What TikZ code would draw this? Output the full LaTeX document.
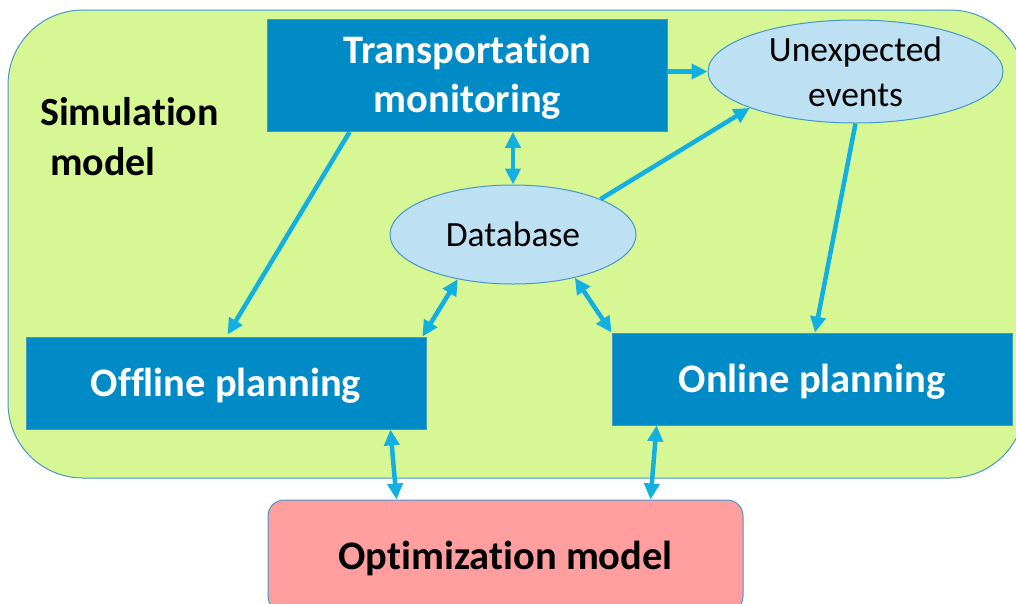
\documentclass[tikz,border=0pt]{standalone}
\usepackage{fontspec}
\setmainfont[Ligatures={NoCommon}]{Carlito}
\usetikzlibrary{arrows.meta,shapes.geometric,calc}
\definecolor{simgreen}{RGB}{215,247,148}
\definecolor{boxblue}{RGB}{0,139,198}
\definecolor{ellblue}{RGB}{189,225,243}
\definecolor{optpink}{RGB}{255,158,158}
\definecolor{arrcyan}{RGB}{18,175,225}
\definecolor{edgeblue}{RGB}{70,150,200}
\tikzset{
  bluebox/.style={rectangle, fill=boxblue, draw=edgeblue, line width=0.8pt, inner sep=0pt, text=white,
    font=\fontsize{40.5}{49}\selectfont\bfseries, align=center, text height=33pt},
  ellbox/.style={ellipse, fill=ellblue, draw=edgeblue, line width=1pt, inner sep=0pt,
    font=\fontsize{35.5}{45}\selectfont, align=center},
  conn/.style={draw=arrcyan, line width=4.5pt, -{Triangle[length=16pt,width=15pt]}},
  bconn/.style={draw=arrcyan, line width=4.5pt, {Triangle[length=16pt,width=15pt]}-{Triangle[length=16pt,width=15pt]}},
}
\begin{document}
\begin{tikzpicture}[x=1pt,y=-1pt]
\useasboundingbox (0,0) rectangle (1016,603);
\clip (0,0) rectangle (1016,603);
% simulation model container
\node[rectangle, rounded corners=75pt, fill=simgreen, draw=edgeblue, line width=1pt,
  minimum width=1017pt, minimum height=468pt, inner sep=0pt] (sim) at (516.5,244) {};
\node[anchor=base west, font=\fontsize{40}{50}\selectfont\bfseries, align=left, inner sep=0pt]
  (simlabel) at (40,175) {Simulation\\\hspace*{10pt}model};
% nodes
\node[bluebox, text height=84pt, text depth=10pt, minimum width=400pt, minimum height=112pt] (tm) at (467.5,75.5) {Transportation\\monitoring};
\node[ellbox, minimum width=295pt, minimum height=103pt] (ue) at (855.5,71.5) {Unexpected\\events};
\node[ellbox, minimum width=246pt, minimum height=99pt] (db) at (513,234.5) {Database};
\node[bluebox, minimum width=400pt, minimum height=92pt] (off) at (226,383) {Offline planning};
\node[bluebox, minimum width=400pt, minimum height=92pt] (on) at (812,379) {Online planning};
\node[rectangle, rounded corners=16pt, fill=optpink, draw=edgeblue, line width=1pt,
  minimum width=475pt, minimum height=112pt, inner sep=0pt, text height=33pt,
  font=\fontsize{40.5}{49}\selectfont\bfseries] (opt) at (505.5,556) {Optimization model};
% connectors
\draw[conn] (tm.east |- ue.west) -- (ue.west);
\draw[bconn] (db.north |- tm.south) -- (db.north);
\draw[conn] ([xshift=82.5pt]tm.south west) -- ([xshift=202pt,yshift=2pt]off.north west);
\draw[conn] (db.22.8) -- (ue.199.4);
\draw[conn] (ue.south) -- ([xshift=3pt]on.north);
\draw[bconn] (db.219) -- ([xshift=-4pt]off.north east);
\draw[bconn] (db.325.8) -- (on.north west);
\draw[bconn] ([xshift=-36pt]off.south east) -- ([xshift=129pt]opt.north west);
\draw[bconn] ([xshift=45pt]on.south west) -- ([xshift=-93pt]opt.north east);
\end{tikzpicture}
\end{document}
